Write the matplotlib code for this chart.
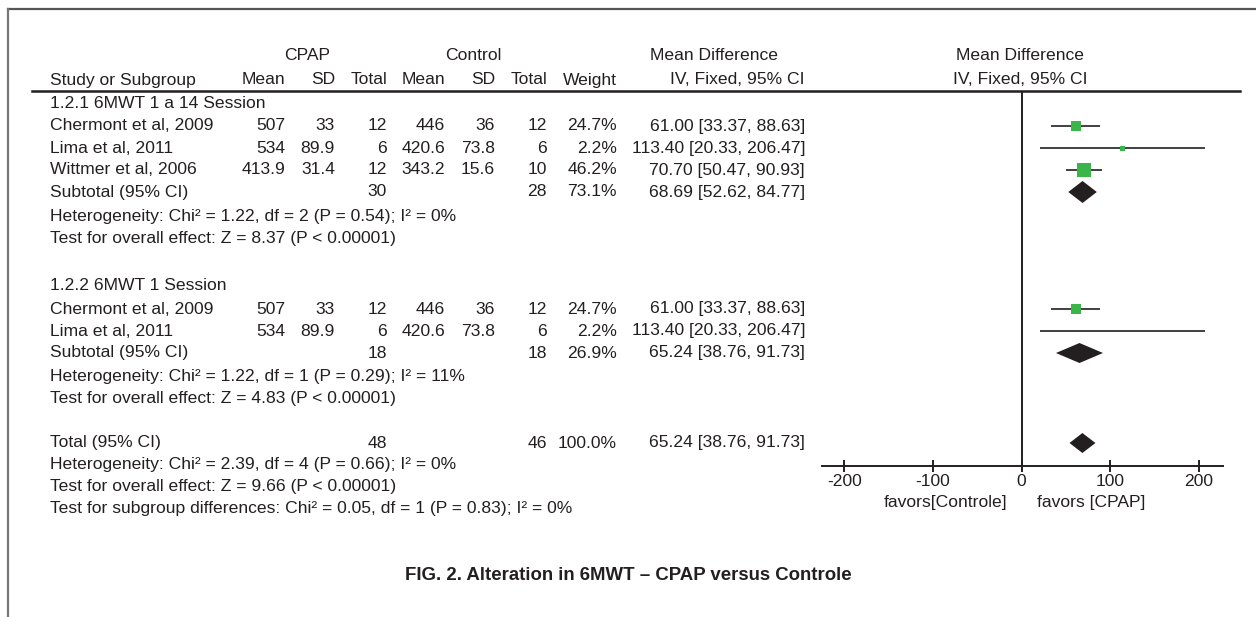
import numpy as np
import matplotlib.pyplot as plt
from matplotlib.patches import Polygon

W, H = 1256, 617
DPI = 100
plt.rcParams['font.family'] = ['Liberation Sans', 'DejaVu Sans']

TXT = '#231f20'
GREEN = '#39b54a'

# --- data ---
studies_g1 = ['Chermont et al, 2009', 'Lima et al, 2011', 'Wittmer et al, 2006']
cpap_mean_g1 = ['507', '534', '413.9']
cpap_sd_g1 = ['33', '89.9', '31.4']
cpap_n_g1 = ['12', '6', '12']
ctrl_mean_g1 = ['446', '420.6', '343.2']
ctrl_sd_g1 = ['36', '73.8', '15.6']
ctrl_n_g1 = ['12', '6', '10']
weight_g1 = [24.7, 2.2, 46.2]
md_g1 = [61.00, 113.40, 70.70]
lo_g1 = [33.37, 20.33, 50.47]
hi_g1 = [88.63, 206.47, 90.93]

studies_g2 = ['Chermont et al, 2009', 'Lima et al, 2011']
cpap_mean_g2 = ['507', '534']
cpap_sd_g2 = ['33', '89.9']
cpap_n_g2 = ['12', '6']
ctrl_mean_g2 = ['446', '420.6']
ctrl_sd_g2 = ['36', '73.8']
ctrl_n_g2 = ['12', '6']
weight_g2 = [24.7, 2.2]
box_shown_g2 = [True, False]
md_g2 = [61.00, 113.40]
lo_g2 = [33.37, 20.33]
hi_g2 = [88.63, 206.47]

sub1 = dict(n1='30', n2='28', w='73.1%', md=68.69, lo=52.62, hi=84.77)
sub2 = dict(n1='18', n2='18', w='26.9%', md=65.24, lo=38.76, hi=91.73)
total = dict(n1='48', n2='46', w='100.0%', md=65.24, lo=38.76, hi=91.73)
total_diamond = (68.5, 54.0, 83.2)  # as drawn in the figure

het1 = 'Heterogeneity: Chi² = 1.22, df = 2 (P = 0.54); I² = 0%'
eff1 = 'Test for overall effect: Z = 8.37 (P < 0.00001)'
het2 = 'Heterogeneity: Chi² = 1.22, df = 1 (P = 0.29); I² = 11%'
eff2 = 'Test for overall effect: Z = 4.83 (P < 0.00001)'
het_t = 'Heterogeneity: Chi² = 2.39, df = 4 (P = 0.66); I² = 0%'
eff_t = 'Test for overall effect: Z = 9.66 (P < 0.00001)'
sub_t = 'Test for subgroup differences: Chi² = 0.05, df = 1 (P = 0.83); I² = 0%'

xticks = [-200, -100, 0, 100, 200]

# --- layout (pixels) ---
FS = 12.6
X_NAME = 50
X_CM, X_CS, X_CN = 285, 335, 387
X_KM, X_KS, X_KN = 445, 495, 547
X_W, X_CI = 617, 805

fig = plt.figure(figsize=(W / DPI, H / DPI), dpi=DPI)


def put(x, y, s, ha='left', **kw):
    kw.setdefault('fontsize', FS)
    kw.setdefault('color', TXT)
    fig.text(x / W, 1 - y / H, s, ha=ha, va='center', **kw)


def hline(x0, x1, y, **kw):
    fig.add_artist(plt.Line2D([x0 / W, x1 / W], [1 - y / H, 1 - y / H], **kw))


# frame lines
hline(8, W, 9, color='#555555', lw=1.6)
fig.add_artist(plt.Line2D([8 / W, 8 / W], [0, 1 - 9 / H], color='#777777', lw=1.6))

# headers
put(307, 56, 'CPAP', ha='center')
put(473, 56, 'Control', ha='center')
put(714, 56, 'Mean Difference', ha='center')
put(1020, 56, 'Mean Difference', ha='center')
put(X_NAME, 80, 'Study or Subgroup')
for x, s in [(X_CM, 'Mean'), (X_CS, 'SD'), (X_CN, 'Total'), (X_KM, 'Mean'),
             (X_KS, 'SD'), (X_KN, 'Total'), (X_W, 'Weight'), (X_CI, 'IV, Fixed, 95% CI')]:
    put(x, 80, s, ha='right')
put(1020, 80, 'IV, Fixed, 95% CI', ha='center')
hline(32, 1240, 91, color=TXT, lw=1.8)


def study_rows(ys, names, cm, cs, cn, km, ks, kn, w, md, lo, hi):
    for i, y in enumerate(ys):
        put(X_NAME, y, names[i])
        put(X_CM, y, cm[i], ha='right')
        put(X_CS, y, cs[i], ha='right')
        put(X_CN, y, cn[i], ha='right')
        put(X_KM, y, km[i], ha='right')
        put(X_KS, y, ks[i], ha='right')
        put(X_KN, y, kn[i], ha='right')
        put(X_W, y, f'{w[i]}%', ha='right')
        put(X_CI, y, f'{md[i]:.2f} [{lo[i]:.2f}, {hi[i]:.2f}]', ha='right')


def summary_row(y, label, d):
    put(X_NAME, y, label)
    put(X_CN, y, d['n1'], ha='right')
    put(X_KN, y, d['n2'], ha='right')
    put(X_W, y, d['w'], ha='right')
    put(X_CI, y, f"{d['md']:.2f} [{d['lo']:.2f}, {d['hi']:.2f}]", ha='right')


y_g1 = [126, 148, 170]
y_s1 = 192
y_g2 = [309, 331]
y_s2 = 353
y_tot = 443

put(X_NAME, 104, '1.2.1 6MWT 1 a 14 Session')
study_rows(y_g1, studies_g1, cpap_mean_g1, cpap_sd_g1, cpap_n_g1, ctrl_mean_g1,
           ctrl_sd_g1, ctrl_n_g1, weight_g1, md_g1, lo_g1, hi_g1)
summary_row(y_s1, 'Subtotal (95% CI)', sub1)
put(X_NAME, 217, het1)
put(X_NAME, 239, eff1)

put(X_NAME, 286, '1.2.2 6MWT 1 Session')
study_rows(y_g2, studies_g2, cpap_mean_g2, cpap_sd_g2, cpap_n_g2, ctrl_mean_g2,
           ctrl_sd_g2, ctrl_n_g2, weight_g2, md_g2, lo_g2, hi_g2)
summary_row(y_s2, 'Subtotal (95% CI)', sub2)
put(X_NAME, 376, het2)
put(X_NAME, 398, eff2)

summary_row(y_tot, 'Total (95% CI)', total)
put(X_NAME, 465, het_t)
put(X_NAME, 487, eff_t)
put(X_NAME, 509, sub_t)

put(628, 576, 'FIG. 2. Alteration in 6MWT – CPAP versus Controle', ha='center',
    fontsize=13.4, fontweight='bold')

# --- forest panel ---
ax_l, ax_r, ax_t, ax_b = 822, 1223, 92, 466
ax = fig.add_axes([ax_l / W, 1 - ax_b / H, (ax_r - ax_l) / W, (ax_b - ax_t) / H])
ax.set_xlim(-225, 227)
ax.set_ylim(ax_b, ax_t)
for s in ['top', 'right', 'left']:
    ax.spines[s].set_visible(False)
ax.spines['bottom'].set_color(TXT)
ax.spines['bottom'].set_linewidth(1.4)
ax.set_yticks([])
ax.set_xticks(xticks)
ax.set_xticklabels([str(t) for t in xticks])
ax.tick_params(axis='x', direction='inout', length=9, width=1.4, color=TXT,
               labelsize=FS, labelcolor=TXT, pad=1.5)
ax.axvline(0, color=TXT, lw=1.4)
ax.patch.set_alpha(0)


def box_size(w):
    return max(5.0, 2.1 * np.sqrt(w)) * 72 / DPI


def draw_studies(ys, md, lo, hi, w, shown=None):
    for i, y in enumerate(ys):
        ax.plot([lo[i], hi[i]], [y, y], color=TXT, lw=1.2, solid_capstyle='butt')
        if shown is None or shown[i]:
            ax.plot(md[i], y, marker='s', ms=box_size(w[i]), color=GREEN, mec=GREEN, mew=0)


def diamond(y, md, lo, hi, h=11):
    ax.add_patch(Polygon([[lo, y], [md, y - h], [hi, y], [md, y + h]],
                         closed=True, color=TXT, lw=0))


draw_studies(y_g1, md_g1, lo_g1, hi_g1, weight_g1)
diamond(y_s1, sub1['md'], sub1['lo'], sub1['hi'])
draw_studies(y_g2, md_g2, lo_g2, hi_g2, weight_g2, box_shown_g2)
diamond(y_s2, sub2['md'], sub2['lo'], sub2['hi'], h=10)
diamond(y_tot, *total_diamond, h=10)

put(1007, 502, 'favors[Controle]', ha='right')
put(1037, 502, 'favors [CPAP]', ha='left')

fig.savefig('out.png', dpi=DPI)
